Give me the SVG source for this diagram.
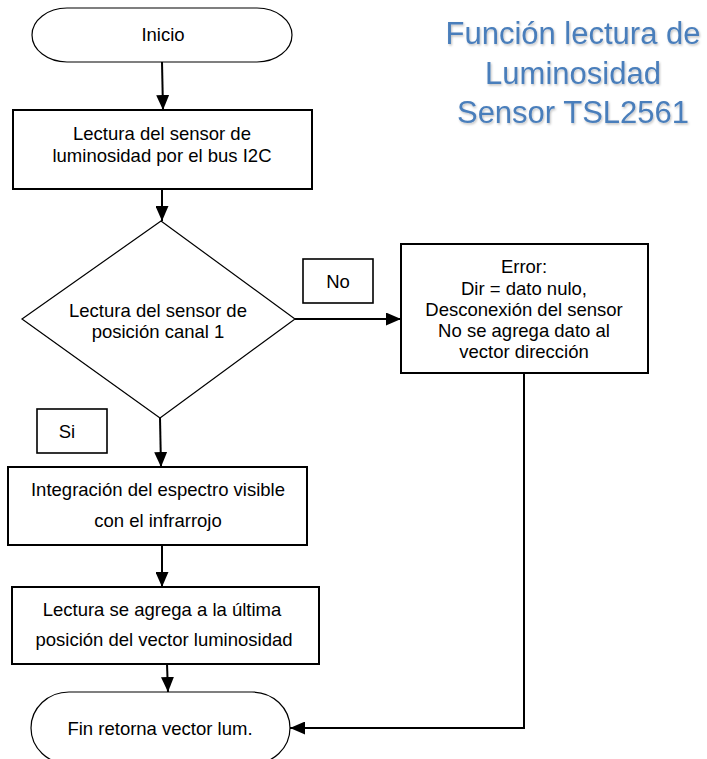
<svg xmlns="http://www.w3.org/2000/svg" width="707" height="759" viewBox="0 0 707 759">
<defs>
<style>
.t{font-family:"Liberation Sans",Arial,sans-serif;font-size:18.5px;fill:#000;text-anchor:middle}
.title{font-family:"Liberation Sans",Arial,sans-serif;font-size:31px;fill:#4A7EBB;text-anchor:middle}
.box{fill:#fff;stroke:#000;stroke-width:2}
.thin{fill:#fff;stroke:#000;stroke-width:1.2}
.lbl{fill:#fff;stroke:#000;stroke-width:1.6}
.c{fill:none;stroke:#000;stroke-width:2}
</style>
<marker id="ah" viewBox="0 0 15 13" refX="15" refY="6.5" markerWidth="15" markerHeight="13" markerUnits="userSpaceOnUse" orient="auto"><path d="M0,0 L15,6.5 L0,13 z" fill="#000"/></marker>
<filter id="sh" x="-10%" y="-20%" width="120%" height="140%"><feDropShadow dx="1" dy="1.5" stdDeviation="1.2" flood-color="#000" flood-opacity="0.25"/></filter>
</defs>
<rect width="707" height="759" fill="#fff"/>

<g id="title" filter="url(#sh)">
<text class="title" x="573" y="44">Función lectura de</text>
<text class="title" x="573" y="84">Luminosidad</text>
<text class="title" x="573" y="123">Sensor TSL2561</text>
</g>

<g id="connectors">
<path class="c" d="M162,62 L163,110" marker-end="url(#ah)"/>
<path class="c" d="M162,189 L162,221" marker-end="url(#ah)"/>
<path class="c" d="M295,319 L401,319" marker-end="url(#ah)"/>
<path class="c" d="M160,418 L161,467" marker-end="url(#ah)"/>
<path class="c" d="M162,545 L162,587" marker-end="url(#ah)"/>
<path class="c" d="M167,664 L168,692" marker-end="url(#ah)"/>
<path class="c" d="M524,373 L524,728 L290,728" marker-end="url(#ah)"/>
</g>

<g id="inicio">
<rect class="thin" x="32" y="8" width="260" height="54" rx="35" ry="27"/>
<text class="t" x="163" y="41">Inicio</text>
</g>

<g id="lectura-bus">
<rect class="box" x="13" y="110" width="299" height="79"/>
<text class="t" x="162" y="140">Lectura del sensor de</text>
<text class="t" x="162" y="162">luminosidad por el bus I2C</text>
</g>

<g id="decision">
<path class="thin" d="M161,221 L295,319 L160,418 L22,319 Z"/>
<text class="t" x="158" y="317">Lectura del sensor de</text>
<text class="t" x="158" y="338">posición canal 1</text>
</g>

<g id="label-no">
<rect class="lbl" x="303" y="259" width="70" height="44"/>
<text class="t" x="338" y="288">No</text>
</g>

<g id="error">
<rect class="box" x="401" y="244" width="247" height="129"/>
<text class="t" x="524" y="273">Error:</text>
<text class="t" x="524" y="295">Dir = dato nulo,</text>
<text class="t" x="524" y="316">Desconexión del sensor</text>
<text class="t" x="524" y="337">No se agrega dato al</text>
<text class="t" x="524" y="358">vector dirección</text>
</g>

<g id="label-si">
<rect class="lbl" x="37" y="409" width="70" height="44"/>
<text class="t" x="67" y="438">Si</text>
</g>

<g id="integracion">
<rect class="box" x="8" y="467" width="299" height="78"/>
<text class="t" x="158" y="496">Integración del espectro visible</text>
<text class="t" x="158" y="527">con el infrarrojo</text>
</g>

<g id="agrega">
<rect class="box" x="12" y="587" width="307" height="77"/>
<text class="t" x="162" y="616">Lectura se agrega a la última</text>
<text class="t" x="164" y="646">posición del vector luminosidad</text>
</g>

<g id="fin">
<rect class="thin" x="31" y="692" width="259" height="72" rx="38" ry="36"/>
<text class="t" x="160" y="735">Fin retorna vector lum.</text>
</g>
</svg>
